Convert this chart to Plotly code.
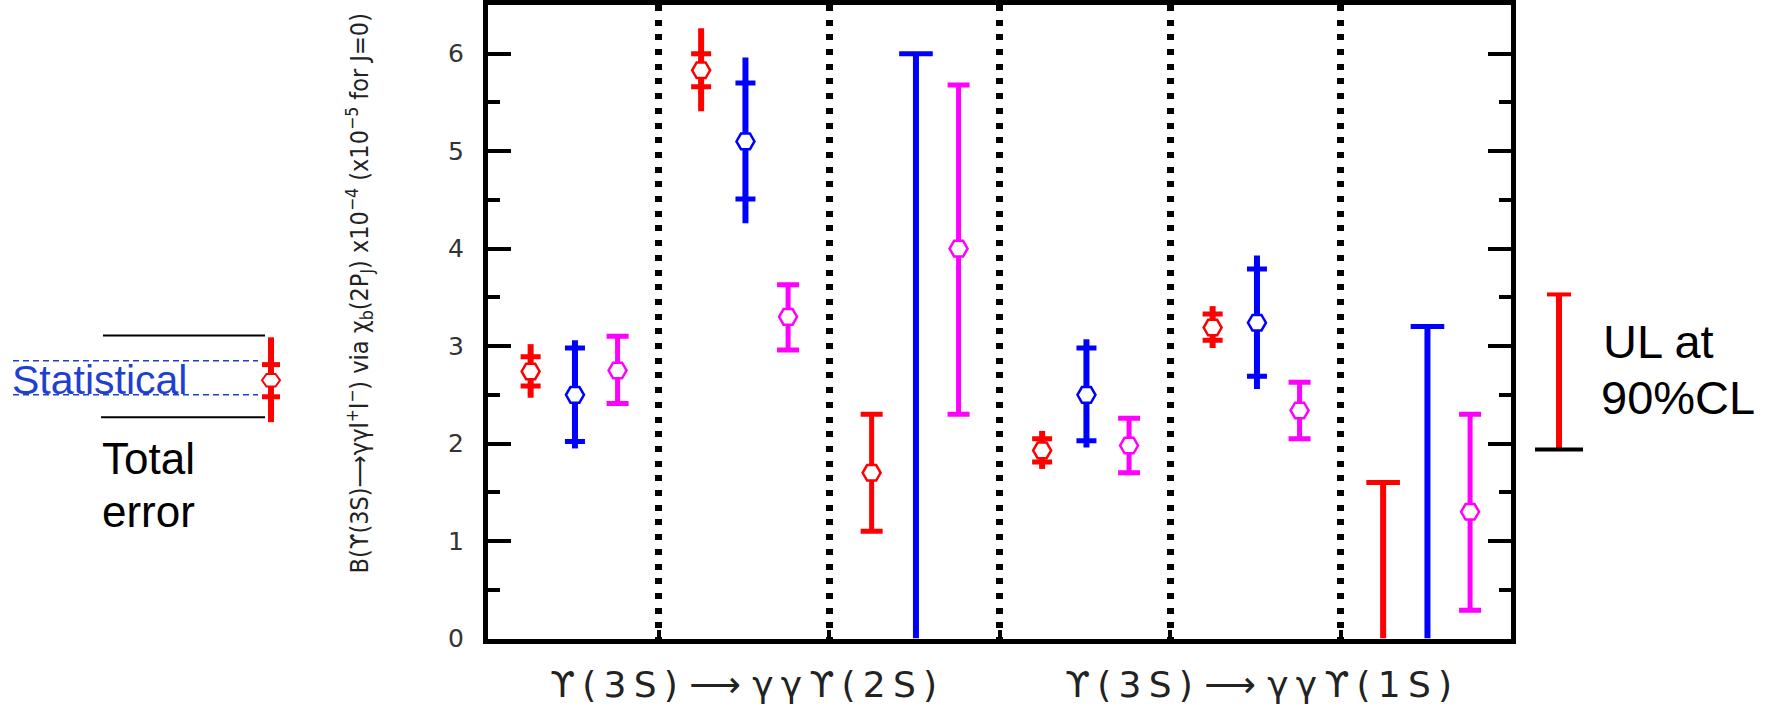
import plotly.graph_objects as go

W, H = 1769, 712

# ---------------- data ----------------
transitions = ["ϒ(3S) ⟶ γγϒ(2S)", "ϒ(3S) ⟶ γγϒ(1S)"]
groups = [0, 1, 2, 3, 4, 5]            # six J-slots (J=0,1,2 for each transition)
J_values = [0, 1, 2, 0, 1, 2]
y_ticks = [0, 1, 2, 3, 4, 5, 6]

# red series
red_val     = [2.74, 5.83, 1.70, 1.93, 3.19, None]
red_stat_lo = [2.59, 5.66, None, 1.81, 3.06, None]
red_stat_hi = [2.89, 6.00, None, 2.05, 3.33, None]
red_tot_lo  = [2.47, 5.41, 1.10, 1.74, 2.98, None]
red_tot_hi  = [3.02, 6.26, 2.30, 2.13, 3.41, None]
red_ul      = [None, None, None, None, None, 1.6]

# blue series
blue_val     = [2.50, 5.10, None, 2.50, 3.24, None]
blue_stat_lo = [2.02, 4.51, None, 2.03, 2.69, None]
blue_stat_hi = [2.98, 5.70, None, 2.98, 3.79, None]
blue_tot_lo  = [1.95, 4.26, None, 1.96, 2.56, None]
blue_tot_hi  = [3.06, 5.96, None, 3.07, 3.93, None]
blue_ul      = [None, None, 6.0, None, None, 3.2]

# magenta series
mag_val     = [2.75, 3.30, 4.00, 1.98, 2.34, 1.30]
mag_stat_lo = [None, None, None, None, None, None]
mag_stat_hi = [None, None, None, None, None, None]
mag_tot_lo  = [2.41, 2.96, 2.30, 1.70, 2.05, 0.29]
mag_tot_hi  = [3.10, 3.63, 5.68, 2.26, 2.63, 2.30]
mag_ul      = [None, None, None, None, None, None]

RED, BLUE, MAG = "#ff0000", "#0000ff", "#ff00ff"

fig = go.Figure()


def add_series(color, off, val, slo, shi, tlo, thi, ul):
    xs = [g + off for g in groups]
    i_s = [i for i in groups if val[i] is not None and slo[i] is not None]
    i_c = [i for i in groups if val[i] is not None and slo[i] is None]
    i_u = [i for i in groups if ul[i] is not None]
    mk = dict(symbol="hexagon2", size=18, color="white", line=dict(color=color, width=2.5))
    if i_s:
        # statistical crossbars
        fig.add_trace(go.Scatter(
            x=[xs[i] for i in i_s], y=[val[i] for i in i_s], mode="markers",
            marker=dict(size=1, opacity=0),
            error_y=dict(type="data", symmetric=False,
                         array=[shi[i] - val[i] for i in i_s],
                         arrayminus=[val[i] - slo[i] for i in i_s],
                         width=10, thickness=5, color=color),
            showlegend=False, hoverinfo="skip"))
        # total error line, no caps
        fig.add_trace(go.Scatter(
            x=[xs[i] for i in i_s], y=[val[i] for i in i_s], mode="markers",
            marker=mk,
            error_y=dict(type="data", symmetric=False,
                         array=[thi[i] - val[i] for i in i_s],
                         arrayminus=[val[i] - tlo[i] for i in i_s],
                         width=0, thickness=6, color=color),
            showlegend=False))
    if i_c:
        fig.add_trace(go.Scatter(
            x=[xs[i] for i in i_c], y=[val[i] for i in i_c], mode="markers",
            marker=mk,
            error_y=dict(type="data", symmetric=False,
                         array=[thi[i] - val[i] for i in i_c],
                         arrayminus=[val[i] - tlo[i] for i in i_c],
                         width=11, thickness=5, color=color),
            showlegend=False))
    if i_u:
        lx, ly = [], []
        for i in i_u:
            lx += [xs[i], xs[i], None]
            ly += [0, ul[i], None]
        fig.add_trace(go.Scatter(x=lx, y=ly, mode="lines",
                                 line=dict(color=color, width=6),
                                 showlegend=False, hoverinfo="skip"))
        fig.add_trace(go.Scatter(
            x=[xs[i] for i in i_u], y=[ul[i] for i in i_u], mode="markers",
            marker=dict(symbol="line-ew", size=24, line=dict(color=color, width=5)),
            showlegend=False))


add_series(RED, 0.25, red_val, red_stat_lo, red_stat_hi, red_tot_lo, red_tot_hi, red_ul)
add_series(BLUE, 0.51, blue_val, blue_stat_lo, blue_stat_hi, blue_tot_lo, blue_tot_hi, blue_ul)
add_series(MAG, 0.76, mag_val, mag_stat_lo, mag_stat_hi, mag_tot_lo, mag_tot_hi, mag_ul)


def px(x):
    return x / W


def py(y):
    return 1 - y / H


shapes = []
# left legend: dashed blue "Statistical" lines, solid black "Total error" lines
for yy in (367, 402):
    shapes.append(dict(type="line", xref="paper", yref="paper", x0=px(13), x1=px(258),
                       y0=py(yy), y1=py(yy), line=dict(color="#1f3fd0", width=1.5, dash="6px,4px")))
for yy, x0 in ((341, 103), (425, 101)):
    shapes.append(dict(type="line", xref="paper", yref="paper", x0=px(x0), x1=px(265),
                       y0=py(yy), y1=py(yy), line=dict(color="black", width=2)))
# legend red symbol
cx = 271
shapes.append(dict(type="line", xref="paper", yref="paper", x0=px(cx), x1=px(cx),
                   y0=py(343), y1=py(430), line=dict(color=RED, width=6)))
for yy in (371, 404):
    shapes.append(dict(type="line", xref="paper", yref="paper", x0=px(cx - 9), x1=px(cx + 9),
                       y0=py(yy), y1=py(yy), line=dict(color=RED, width=5)))
a, b, cy = 9, 6.5, 387
pts = [(cx - a, cy), (cx - a / 2, cy - b), (cx + a / 2, cy - b), (cx + a, cy), (cx + a / 2, cy + b), (cx - a / 2, cy + b)]
path = "M " + " L ".join(f"{px(p[0]):.5f},{py(p[1]):.5f}" for p in pts) + " Z"
shapes.append(dict(type="path", xref="paper", yref="paper", path=path,
                   fillcolor="white", line=dict(color=RED, width=2)))
# right legend: UL bar
shapes.append(dict(type="line", xref="paper", yref="paper", x0=px(1559), x1=px(1559),
                   y0=py(299), y1=py(458), line=dict(color=RED, width=6)))
shapes.append(dict(type="line", xref="paper", yref="paper", x0=px(1547), x1=px(1571),
                   y0=py(299), y1=py(299), line=dict(color=RED, width=4)))
shapes.append(dict(type="line", xref="paper", yref="paper", x0=px(1535), x1=px(1583),
                   y0=py(458), y1=py(458), line=dict(color="black", width=4)))

TH = "\u2009"


def spaced(s):
    return TH.join(list(s))


annotations = [
    dict(text=spaced("ϒ(3S)") + " ⟶ " + spaced("γγϒ(2S)"), x=1.5, xref="x", y=py(699), yref="paper",
         showarrow=False, xanchor="center", yanchor="middle",
         font=dict(family="DejaVu Sans", size=36, color="#222")),
    dict(text=spaced("ϒ(3S)") + " ⟶ " + spaced("γγϒ(1S)"), x=4.52, xref="x", y=py(699), yref="paper",
         showarrow=False, xanchor="center", yanchor="middle",
         font=dict(family="DejaVu Sans", size=36, color="#222")),
    dict(text="B(ϒ(3S)⟶γγl<sup>+</sup>l<sup>−</sup>) via χ<sub>b</sub>(2P<sub>J</sub>) x10<sup>−4</sup> (x10<sup>−5</sup> for J=0)",
         x=px(360), y=py(298), xref="paper", yref="paper", textangle=-90,
         showarrow=False, xanchor="center", yanchor="middle",
         font=dict(family="Liberation Sans Narrow, DejaVu Sans Condensed, Liberation Sans", size=25, color="#222")),
    dict(text="Statistical", x=px(10), y=py(387), xref="paper", yref="paper", showarrow=False,
         xanchor="left", yanchor="middle", font=dict(family="Liberation Sans", size=41, color="#1f3fd0")),
    dict(text="Total", x=px(100), y=py(467), xref="paper", yref="paper", showarrow=False,
         xanchor="left", yanchor="middle", font=dict(family="Liberation Sans", size=44, color="black")),
    dict(text="error", x=px(100), y=py(522), xref="paper", yref="paper", showarrow=False,
         xanchor="left", yanchor="middle", font=dict(family="Liberation Sans", size=44, color="black")),
    dict(text="UL at", x=px(1601), y=py(347), xref="paper", yref="paper", showarrow=False,
         xanchor="left", yanchor="middle", font=dict(family="Liberation Sans", size=47, color="black")),
    dict(text="90%CL", x=px(1599), y=py(405), xref="paper", yref="paper", showarrow=False,
         xanchor="left", yanchor="middle", font=dict(family="Liberation Sans", size=47, color="black")),
]

fig.update_layout(
    width=W, height=H,
    margin=dict(l=0, r=0, t=0, b=0),
    paper_bgcolor="white", plot_bgcolor="white",
    showlegend=False,
    shapes=shapes, annotations=annotations,
    xaxis=dict(domain=[488 / W, 1511 / W], range=[0, 6], showline=True, mirror=True,
               linecolor="black", linewidth=5, tickvals=[1, 2, 3, 4, 5], ticks="inside",
               ticklen=9, tickwidth=4, tickcolor="black", showticklabels=False,
               showgrid=True, gridcolor="black", gridwidth=7, griddash="6px,8.7px",
               zeroline=False, fixedrange=True),
    yaxis=dict(domain=[60 / H, 710 / H], range=[0, 6.5], showline=True, mirror="ticks",
               linecolor="black", linewidth=5, tickvals=y_ticks, ticks="inside",
               ticklen=23, tickwidth=4, tickcolor="black",
               minor=dict(tickvals=[0.5, 1.5, 2.5, 3.5, 4.5, 5.5], ticks="inside", ticklen=12,
                          tickwidth=4, tickcolor="black", showgrid=False),
               tickfont=dict(family="DejaVu Sans", size=25, color="#333"),
               ticklabelstandoff=14, showgrid=False, zeroline=False, fixedrange=True),
)

fig.write_html("out.html")
